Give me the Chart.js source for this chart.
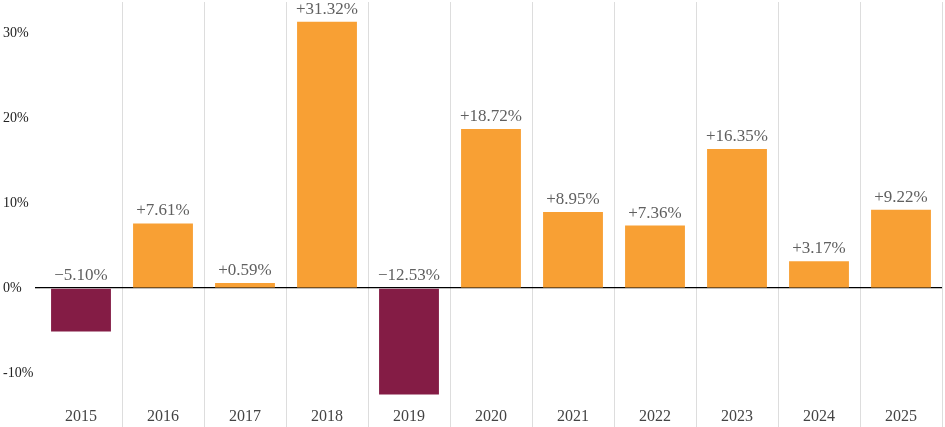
<!DOCTYPE html>
<html>
<head>
<meta charset="utf-8">
<script src="https://cdn.jsdelivr.net/npm/chart.js@4"></script>
<style>
	html, body { margin: 0; padding: 0; background: #fff; }
	#wrap { width: 945px; height: 427px; }
</style>
</head>
<body>
<div id="wrap"><canvas id="chartCanvas"></canvas></div>
<script>
const years = ['2015', '2016', '2017', '2018', '2019', '2020', '2021', '2022', '2023', '2024', '2025']
const returns = [-5.10, 7.61, 0.59, 31.32, -12.53, 18.72, 8.95, 7.36, 16.35, 3.17, 9.22]
const yTicks = [-10, 0, 10, 20, 30]

const FONT = '"Liberation Serif", "DejaVu Serif", serif'
const UP = '#f8a034'
const DOWN = '#841c45'

// value labels: positive above the bar, negative sit just above the zero line
const barLabels = {
	id: 'barLabels',
	afterDatasetsDraw(chart) {
		const ctx = chart.ctx
		const meta = chart.getDatasetMeta(0)
		const y = chart.scales.y
		ctx.save()
		ctx.font = '17px ' + FONT
		ctx.fillStyle = '#606060'
		ctx.textAlign = 'center'
		ctx.textBaseline = 'alphabetic'
		meta.data.forEach((bar, i) => {
			let v = returns[i]
			let txt = (v < 0 ? '\u2212' : '+') + Math.abs(v).toFixed(2) + '%'
			let top = v < 0 ? y.getPixelForValue(0) : bar.y
			ctx.fillText(txt, bar.x, top - 8)
		})
		ctx.restore()
	}
}

new Chart(document.getElementById('chartCanvas'), {
	type: 'bar',
	data: {
		labels: years,
		datasets: [{
			data: returns,
			backgroundColor: returns.map(v => v < 0 ? DOWN : UP),
			categoryPercentage: 1,
			barPercentage: 0.73,
		}],
	},
	plugins: [barLabels],
	options: {
		animation: false,
		responsive: true,
		maintainAspectRatio: false,
		layout: { padding: { top: 2, right: 3, left: 3, bottom: 0 } },
		plugins: {
			legend: { display: false },
			tooltip: { enabled: false },
		},
		scales: {
			x: {
				border: { display: false },
				grid: {
					offset: true,
					color: c => (c.index === 0 || c.index === years.length) ? 'rgba(0,0,0,0)' : '#dddddd',
					lineWidth: 1,
					drawTicks: true,
					tickLength: 27,
				},
				ticks: {
					padding: -22,
					color: '#444',
					font: { family: FONT, size: 16 },
				},
				afterFit(scale) {
					scale.height = 25
					scale.paddingLeft = 0
					scale.paddingRight = 0
				},
			},
			y: {
				min: -13.4,
				max: 33.65,
				border: { display: false },
				grid: {
					color: c => c.tick && c.tick.value === 0 ? '#000' : 'rgba(0,0,0,0)',
					lineWidth: 1.3,
					tickLength: 5,
				},
				afterBuildTicks(scale) {
					scale.ticks = yTicks.map(v => ({ value: v }))
				},
				ticks: {
					crossAlign: 'far',
					padding: 2,
					color: '#222',
					font: { family: FONT, size: 14 },
					callback: v => v + '%',
				},
				afterFit(scale) {
					scale.width = 37
					scale.paddingTop = 0
					scale.paddingBottom = 0
				},
			},
		},
	},
})
</script>
</body>
</html>
